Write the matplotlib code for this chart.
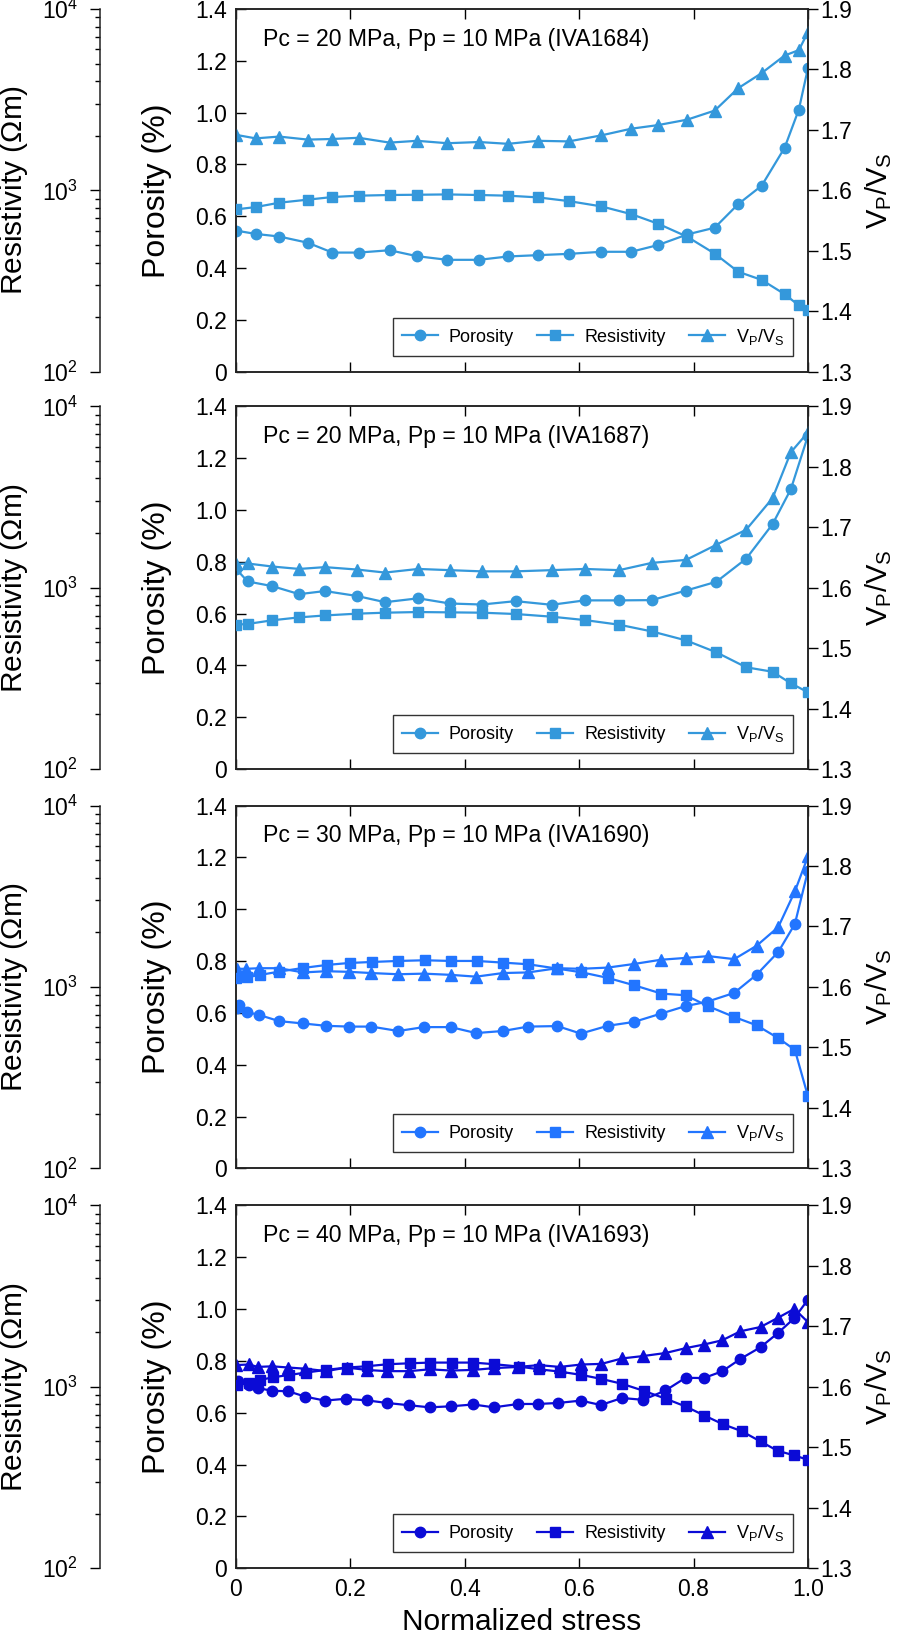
import numpy as np
from matplotlib import pyplot as plt
from matplotlib.ticker import FixedLocator, FuncFormatter, LogLocator, LogFormatterMathtext

plt.rcParams['font.family'] = ['Liberation Sans', 'DejaVu Sans']
plt.rcParams['mathtext.fontset'] = 'custom'
plt.rcParams['mathtext.rm'] = 'Liberation Sans'

## données
# IVA1684
x1 = [0, 0.035, 0.076, 0.126, 0.169, 0.215, 0.269, 0.317, 0.370, 0.425, 0.476, 0.528,
      0.582, 0.639, 0.691, 0.738, 0.789, 0.837, 0.878, 0.919, 0.959, 0.984, 1.0]
por1 = [0.545, 0.532, 0.522, 0.498, 0.460, 0.460, 0.469, 0.446, 0.432, 0.432, 0.445, 0.450,
        0.455, 0.463, 0.463, 0.489, 0.530, 0.556, 0.647, 0.718, 0.864, 1.012, 1.173]
res1 = [785, 809, 855, 889, 919, 935, 943, 946, 950, 943, 935, 915,
        873, 816, 740, 655, 555, 448, 356, 321, 268, 232, 220]
vpvs1 = [1.692, 1.686, 1.689, 1.684, 1.685, 1.687, 1.679, 1.682, 1.678, 1.680, 1.677, 1.682,
         1.681, 1.691, 1.702, 1.708, 1.717, 1.732, 1.769, 1.794, 1.823, 1.832, 1.862]

# IVA1687
x2 = [0, 0.021, 0.064, 0.111, 0.156, 0.212, 0.261, 0.319, 0.374, 0.430, 0.489, 0.552,
      0.610, 0.670, 0.727, 0.787, 0.840, 0.892, 0.938, 0.970, 1.0]
por2 = [0.774, 0.724, 0.706, 0.675, 0.687, 0.668, 0.644, 0.659, 0.639, 0.635, 0.648, 0.634,
        0.651, 0.651, 0.652, 0.689, 0.723, 0.812, 0.945, 1.080, 1.287]
res2 = [625, 631, 661, 686, 703, 719, 728, 734, 731, 728, 716, 692,
        663, 625, 574, 512, 440, 364, 344, 297, 265]
vpvs2 = [1.639, 1.640, 1.635, 1.631, 1.634, 1.630, 1.625, 1.631, 1.629, 1.627, 1.627, 1.629,
         1.631, 1.629, 1.641, 1.646, 1.671, 1.696, 1.748, 1.824, 1.857]

# IVA1690
x3_por = [0.002, 0.006, 0.020, 0.041, 0.076, 0.118, 0.158, 0.198, 0.237, 0.284, 0.329, 0.376, 0.420,
          0.467, 0.511, 0.562, 0.603, 0.650, 0.696, 0.743, 0.786, 0.824, 0.871, 0.910, 0.948, 0.977, 1.0]
por3 = [0.619, 0.630, 0.603, 0.592, 0.568, 0.559, 0.550, 0.547, 0.547, 0.530, 0.545, 0.545, 0.522,
        0.530, 0.547, 0.549, 0.520, 0.550, 0.565, 0.597, 0.626, 0.643, 0.677, 0.747, 0.835, 0.943, 1.149]
x3_res = [0.001, 0.019, 0.042, 0.076, 0.118, 0.159, 0.199, 0.238, 0.284, 0.330, 0.376, 0.421, 0.467,
          0.511, 0.562, 0.604, 0.650, 0.696, 0.744, 0.786, 0.826, 0.871, 0.910, 0.948, 0.977, 1.0]
res3 = [1117, 1130, 1164, 1215, 1273, 1322, 1356, 1373, 1391, 1403, 1391, 1391, 1362,
        1334, 1262, 1205, 1122, 1022, 919, 900, 782, 683, 615, 522, 450, 249]
x3_vpvs = [0.002, 0.018, 0.041, 0.076, 0.118, 0.158, 0.198, 0.237, 0.284, 0.329, 0.376, 0.420, 0.467,
           0.511, 0.562, 0.603, 0.650, 0.696, 0.743, 0.786, 0.826, 0.871, 0.910, 0.948, 0.977, 1.0]
vpvs3 = [1.630, 1.630, 1.631, 1.631, 1.624, 1.626, 1.625, 1.623, 1.621, 1.622, 1.620, 1.617, 1.623,
         1.624, 1.631, 1.630, 1.632, 1.638, 1.645, 1.648, 1.651, 1.646, 1.668, 1.699, 1.758, 1.816]

# IVA1693
x4_por = [0.0, 0.005, 0.023, 0.039, 0.064, 0.092, 0.122, 0.156, 0.192, 0.229, 0.264, 0.303, 0.339,
          0.376, 0.415, 0.451, 0.494, 0.529, 0.564, 0.603, 0.638, 0.675, 0.712, 0.751, 0.786, 0.818,
          0.850, 0.882, 0.917, 0.947, 0.976, 1.0]
por4 = [0.712, 0.721, 0.708, 0.695, 0.685, 0.683, 0.662, 0.647, 0.654, 0.648, 0.638, 0.629, 0.621,
        0.625, 0.632, 0.621, 0.634, 0.634, 0.638, 0.647, 0.630, 0.657, 0.650, 0.686, 0.735, 0.734,
        0.760, 0.808, 0.853, 0.907, 0.965, 1.037]
x4_res = [0.002, 0.024, 0.043, 0.066, 0.094, 0.123, 0.158, 0.194, 0.230, 0.266, 0.304, 0.340, 0.378,
          0.415, 0.452, 0.495, 0.530, 0.566, 0.604, 0.639, 0.675, 0.713, 0.752, 0.786, 0.819, 0.851,
          0.884, 0.917, 0.947, 0.976, 1.0]
res4 = [1026, 1048, 1093, 1130, 1164, 1199, 1241, 1277, 1300, 1333, 1349, 1361, 1361,
        1361, 1333, 1294, 1250, 1214, 1164, 1106, 1040, 951, 859, 780, 695, 623,
        570, 500, 444, 419, 396]
x4_vpvs = [0.0, 0.023, 0.039, 0.064, 0.092, 0.122, 0.158, 0.194, 0.229, 0.264, 0.303, 0.339, 0.376,
           0.415, 0.451, 0.494, 0.530, 0.566, 0.604, 0.639, 0.675, 0.712, 0.751, 0.786, 0.818, 0.850,
           0.882, 0.917, 0.947, 0.976, 1.0]
vpvs4 = [1.636, 1.637, 1.633, 1.634, 1.632, 1.630, 1.626, 1.632, 1.628, 1.626, 1.626, 1.629, 1.627,
         1.628, 1.631, 1.633, 1.636, 1.633, 1.637, 1.638, 1.647, 1.651, 1.656, 1.664, 1.670, 1.677,
         1.692, 1.699, 1.714, 1.729, 1.707]

titres = ["Pc = 20 MPa, Pp = 10 MPa (IVA1684)", "Pc = 20 MPa, Pp = 10 MPa (IVA1687)",
          "Pc = 30 MPa, Pp = 10 MPa (IVA1690)", "Pc = 40 MPa, Pp = 10 MPa (IVA1693)"]
couleurs = ['#3498db', '#3498db', '#2275ff', '#0b0bd6']

panneaux = [
    (x1, por1, x1, res1, x1, vpvs1),
    (x2, por2, x2, res2, x2, vpvs2),
    (x3_por, por3, x3_res, res3, x3_vpvs, vpvs3),
    (x4_por, por4, x4_res, res4, x4_vpvs, vpvs4),
]

vpvs_lab = r'V$_\mathregular{P}$/V$_\mathregular{S}$'
fs_tick = 16.5

fig = plt.figure(figsize=(8.98, 16.37), dpi=100)
bas = [0.7729, 0.5302, 0.2863, 0.0420]
L, W, H = 0.2624, 0.6374, 0.2216

for k in range(4):
    xp, pp, xr, rr, xv, vv = panneaux[k]
    c = couleurs[k]
    ax = fig.add_axes([L, bas[k], W, H])
    axv = ax.twinx()
    axr = ax.twinx()

    # porosité
    l1, = ax.plot(xp, pp, '-o', color=c, ms=7.5, lw=1.6, label='Porosity')
    ax.set_xlim(0, 1.0)
    ax.set_ylim(0, 1.4)
    ax.yaxis.set_major_locator(FixedLocator(np.arange(0, 1.41, 0.2)))
    ax.yaxis.set_major_formatter(FuncFormatter(lambda v, p: '0' if abs(v) < 1e-9 else '%.1f' % v))
    ax.xaxis.set_major_locator(FixedLocator(np.arange(0, 1.01, 0.2)))
    ax.xaxis.set_major_formatter(FuncFormatter(lambda v, p: '0' if abs(v) < 1e-9 else '%.1f' % v))
    ax.tick_params(axis='both', direction='in', length=7, width=1.0, labelsize=fs_tick, pad=6,
                   top=True, right=False)
    ax.tick_params(axis='x', pad=7)
    if k < 3:
        ax.tick_params(axis='x', labelbottom=False)
    else:
        ax.set_xlabel('Normalized stress', fontsize=21.5, va='center')
        ax.xaxis.set_label_coords(0.5, -0.148)
    ax.set_ylabel('Porosity (%)', fontsize=23, va='center')
    ax.yaxis.set_label_coords(-0.137, 0.5)

    # Vp/Vs
    l3, = axv.plot(xv, vv, '-^', color=c, ms=8, lw=1.6, label=vpvs_lab)
    axv.set_ylim(1.3, 1.9)
    axv.yaxis.set_major_locator(FixedLocator(np.arange(1.3, 1.91, 0.1)))
    axv.yaxis.set_major_formatter(FuncFormatter(lambda v, p: '%.1f' % v))
    axv.tick_params(axis='y', direction='out', length=7, width=1.0, labelsize=fs_tick, pad=2)
    axv.set_ylabel(vpvs_lab, fontsize=21, va='center')
    axv.yaxis.set_label_coords(1.124, 0.5)

    # résistivité (axe log décalé à gauche)
    l2, = axr.plot(xr, rr, '-s', color=c, ms=6.5, lw=1.6, label='Resistivity')
    axr.set_yscale('log')
    axr.set_ylim(1e2, 1e4)
    axr.yaxis.set_ticks_position('left')
    axr.yaxis.set_label_position('left')
    axr.spines['left'].set_position(('outward', 97.6))
    for s in ['right', 'top', 'bottom']:
        axr.spines[s].set_visible(False)
    axr.yaxis.set_major_locator(LogLocator(base=10, numticks=5))
    axr.yaxis.set_minor_locator(LogLocator(base=10, subs=np.arange(2, 10), numticks=20))
    axr.yaxis.set_major_formatter(LogFormatterMathtext())
    axr.tick_params(axis='y', which='major', direction='out', length=7, width=1.0,
                    labelsize=fs_tick, pad=9)
    axr.tick_params(axis='y', which='minor', direction='out', length=3.5, width=1.0)
    axr.set_ylabel(r'Resistivity ($\mathregular{\Omega}$m)', fontsize=21.5, va='center')
    axr.yaxis.set_label_coords(-0.388, 0.5)

    for a in (ax, axv, axr):
        for s in a.spines.values():
            s.set_linewidth(1.1)
            s.set_color('#222222')

    ax.text(0.048, 0.917, titres[k], transform=ax.transAxes, fontsize=16.6, ha='left', va='center')

    leg = axr.legend(handles=[l1, l2, l3], loc='lower right', bbox_to_anchor=(0.974, 0.044),
                     ncol=3, fontsize=13, frameon=True, fancybox=False, borderaxespad=0,
                     handlelength=2.0, handletextpad=0.6, columnspacing=1.3, borderpad=0.5)
    leg.get_frame().set_edgecolor('black')
    leg.get_frame().set_linewidth(1.0)

plt.savefig('out.png', dpi=100)
